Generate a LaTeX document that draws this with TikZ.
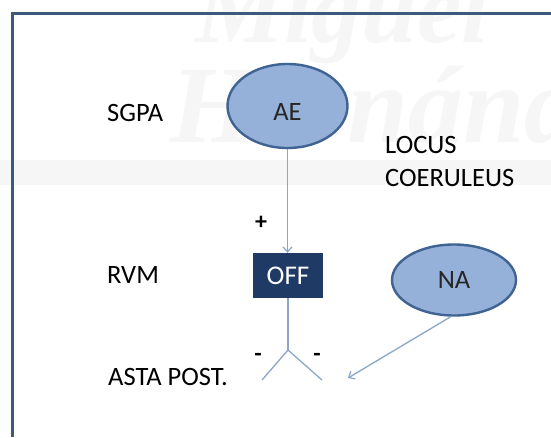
\documentclass[tikz,border=0pt]{standalone}
\usepackage{fontspec}
\setmainfont{Carlito}
\newfontfamily\wmfont{Liberation Serif}
\usetikzlibrary{shapes.geometric,arrows.meta}

\definecolor{framecol}{HTML}{3C5A7A}
\definecolor{bubblefill}{HTML}{95B1D9}
\definecolor{bubbleline}{HTML}{3F6392}
\definecolor{boxfill}{HTML}{1F3A64}
\definecolor{conncol}{HTML}{8AA7C8}
\definecolor{wmcol}{HTML}{F6F6F6}

\tikzset{
  label/.style={font=\fontsize{26.5}{31}\selectfont, text=black, inner sep=0pt},
  bubble/.style={ellipse, draw=bubbleline, fill=bubblefill, line width=2.4pt,
                 font=\fontsize{26.5}{31}\selectfont, text=black!85, inner sep=0pt},
  offbox/.style={rectangle, fill=boxfill, text=white, inner sep=0pt,
                 minimum width=70, minimum height=45, font=\fontsize{27}{31}\selectfont},
  conn/.style={draw=conncol, line width=1.3pt},
  arr/.style={conn, -{Straight Barb[length=5pt,width=9pt,line width=1.2pt]}},
  sign/.style={font=\fontsize{24}{28}\selectfont\bfseries, inner sep=0pt}
}

\begin{document}
\begin{tikzpicture}[x=1pt,y=-1pt]
\useasboundingbox (0,0) rectangle (551,437);
\fill[white] (0,0) rectangle (551,437);

% faint watermark of the background
\begin{scope}
  \clip (0,0) rectangle (551,437);
  \fill[wmcol] (0,160) rectangle (551,185);
  \node[anchor=base west, inner sep=0pt, text=wmcol,
        font=\wmfont\itshape\bfseries\fontsize{100}{100}\selectfont] (wm1) at (195,42) {Miguel};
  \node[anchor=base west, inner sep=0pt, text=wmcol,
        font=\wmfont\itshape\bfseries\fontsize{110}{110}\selectfont] (wm2) at (170,142) {Hernández};
\end{scope}

% frame
\draw[framecol, line width=3pt] (12,437) -- (12,13) -- (551,13);

% level labels
\node[label, anchor=west] (sgpa) at (107,112.5) {SGPA};
\node[label, anchor=west] (rvm)  at (107,275) {RVM};
\node[label, anchor=west] (asta) at (108,377) {ASTA POST.};
\node[label, anchor=base west] (locus) at (385,153) {LOCUS};
\node[label, anchor=base west] (coer)  at (385,186) {COERULEUS};

% nuclei
\node[bubble, minimum width=120, minimum height=84, text height=29, text depth=0] (ae) at (287.5,106) {AE};
\node[offbox] (off) at (288,275.5) {OFF};
\node[bubble, minimum width=124, minimum height=71] (na) at (454,280) {NA};

% connections
\draw[arr] (ae.south) -- (ae.south |- off.north);
\coordinate (fork) at (288,350);
\coordinate (forkl) at (262,380);
\coordinate (forkr) at (322,380);
\coordinate (natip) at (348,378);
\draw[conn] (off.south) -- (fork);
\draw[conn] (forkl) -- (fork) -- (forkr);
\draw[arr] (na.265) -- (natip);

% signs
\node[sign] (plus) at (261,223) {+};
\node[sign] (minl) at (258,357) {-};
\node[sign] (minr) at (317,357) {-};
\end{tikzpicture}
\end{document}
